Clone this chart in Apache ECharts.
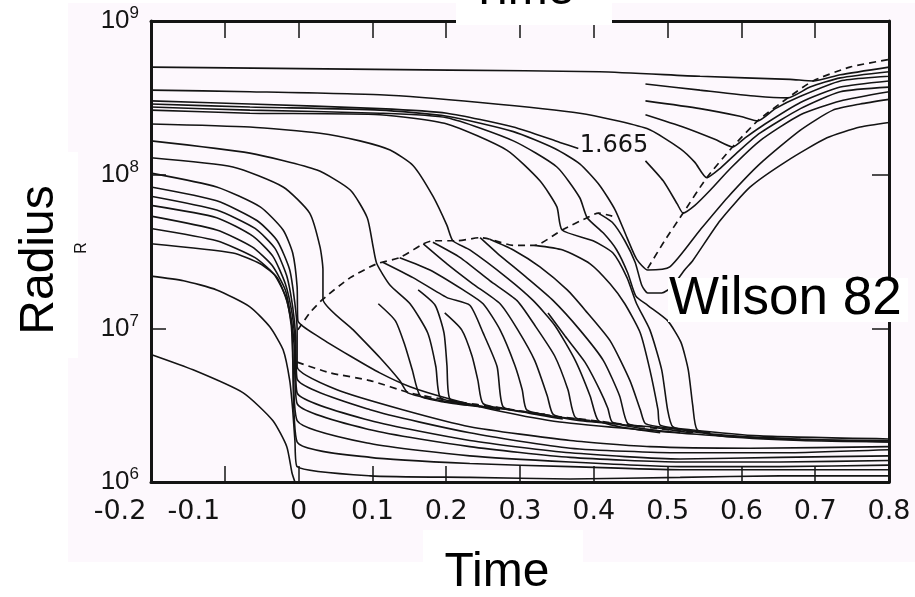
<!DOCTYPE html>
<html>
<head>
<meta charset="utf-8">
<title>Mass-shell trajectories (Wilson 82)</title>
<script src="https://cdn.jsdelivr.net/npm/echarts@6/dist/echarts.min.js"></script>
<style>
  html, body { margin: 0; padding: 0; background: #ffffff; }
  #chart { width: 915px; height: 597px; }
</style>
</head>
<body>
<div id="chart"></div>
<script>
// Axis ticks
const xTickLabels = ['-0.2', '-0.1', '0', '0.1', '0.2', '0.3', '0.4', '0.5', '0.6', '0.7', '0.8'];
const yTickExponents = [6, 7, 8, 9];

// Mass-shell trajectories, each point is [time, log10(radius)]
// Outermost shells, swept up by the outgoing shock near the end
const shell01 = [[-0.200,8.70],[0.002,8.69],[0.205,8.68],[0.408,8.67],[0.544,8.64],[0.666,8.62],[0.697,8.61],[0.734,8.65],[0.800,8.70]];
const shell02 = [[0.470,8.59],[0.544,8.55],[0.621,8.51],[0.663,8.50],[0.693,8.57],[0.734,8.63],[0.800,8.67]];
const shell03 = [[0.470,8.48],[0.544,8.43],[0.598,8.38],[0.622,8.35],[0.646,8.43],[0.680,8.51],[0.734,8.61],[0.800,8.64]];
const shell04 = [[0.470,8.39],[0.521,8.31],[0.564,8.23],[0.588,8.18],[0.605,8.24],[0.632,8.33],[0.680,8.47],[0.734,8.57],[0.800,8.61]];
const shell05 = [[-0.200,8.55],[-0.066,8.54],[0.110,8.52],[0.246,8.47],[0.381,8.40],[0.472,8.30],[0.517,8.17],[0.537,8.08],[0.553,7.98],[0.571,8.04],[0.598,8.16],[0.625,8.27],[0.680,8.43],[0.734,8.54],[0.800,8.57]];
// The 1.665 solar-mass shell (broken where its label sits)
const shell06 = [[-0.200,8.48],[-0.066,8.46],[0.110,8.43],[0.201,8.40],[0.291,8.31],[0.354,8.21],[0.379,8.17],[0.424,null],[0.470,8.09],[0.494,7.96],[0.513,7.81],[0.521,7.75],[0.537,7.80],[0.558,7.90],[0.585,8.04],[0.625,8.22],[0.680,8.39],[0.734,8.48],[0.800,8.54]];
const shell07 = [[-0.200,8.46],[-0.066,8.44],[0.110,8.42],[0.201,8.38],[0.291,8.28],[0.347,8.17],[0.381,8.07],[0.408,7.93],[0.429,7.77],[0.445,7.59],[0.458,7.45],[0.473,7.38],[0.503,7.40],[0.544,7.64],[0.581,7.85],[0.625,8.07],[0.680,8.29],[0.724,8.42],[0.761,8.46],[0.800,8.49]];
const shell08 = [[-0.200,8.44],[-0.066,8.42],[0.110,8.40],[0.201,8.37],[0.291,8.22],[0.350,8.05],[0.381,7.85],[0.391,7.72],[0.413,7.62],[0.431,7.51],[0.446,7.36],[0.457,7.21],[0.473,7.15],[0.500,7.05],[0.518,6.91],[0.528,6.73],[0.534,6.50],[0.540,6.34],[0.571,6.30],[0.680,6.27],[0.800,6.26]];
const shell09 = [[0.406,7.75],[0.425,7.69],[0.442,7.57],[0.456,7.43],[0.465,7.28],[0.473,7.23],[0.492,7.23],[0.506,7.27],[0.523,7.38],[0.534,7.44],[0.571,7.70],[0.612,7.92],[0.662,8.09],[0.716,8.24],[0.761,8.31],[0.800,8.34]];
const shell10 = [[-0.200,8.42],[-0.066,8.40],[0.110,8.39],[0.201,8.33],[0.282,8.16],[0.327,7.96],[0.350,7.79],[0.357,7.64],[0.399,7.57],[0.426,7.49],[0.445,7.33],[0.458,7.16],[0.476,6.99],[0.492,6.73],[0.500,6.47],[0.507,6.36],[0.544,6.32],[0.652,6.28],[0.800,6.27]];
const shell11 = [[-0.200,8.33],[-0.066,8.31],[0.029,8.27],[0.083,8.22],[0.124,8.16],[0.155,8.06],[0.182,7.86],[0.201,7.67],[0.209,7.57],[0.232,7.51],[0.282,7.33],[0.318,7.18],[0.347,7.02],[0.375,6.79],[0.395,6.56],[0.406,6.40],[0.435,6.36],[0.490,6.32]];

// Shells that start behind the first shock and settle onto the inner front
const shell12 = [[0.320,7.54],[0.358,7.51],[0.395,7.42],[0.422,7.29],[0.442,7.16],[0.463,6.97],[0.476,6.73],[0.487,6.47],[0.490,6.37],[0.531,6.34],[0.625,6.30],[0.800,6.28]];
const shell13 = [[0.259,7.58],[0.291,7.51],[0.327,7.40],[0.364,7.25],[0.388,7.12],[0.422,6.92],[0.449,6.66],[0.463,6.47],[0.470,6.38],[0.503,6.35],[0.558,6.32]];
const shell14 = [[0.246,7.59],[0.269,7.49],[0.309,7.33],[0.345,7.18],[0.381,6.99],[0.413,6.79],[0.435,6.56],[0.446,6.38],[0.476,6.36],[0.531,6.32]];
const shell14b = [[0.338,7.10],[0.361,6.95],[0.388,6.78],[0.408,6.60],[0.419,6.48],[0.425,6.39],[0.463,6.35],[0.517,6.32]];
const shell15 = [[0.182,7.56],[0.219,7.46],[0.259,7.31],[0.296,7.18],[0.320,7.02],[0.347,6.82],[0.365,6.60],[0.375,6.42],[0.408,6.39],[0.463,6.36]];
const shell16 = [[0.169,7.55],[0.201,7.42],[0.236,7.29],[0.273,7.16],[0.297,6.99],[0.320,6.79],[0.337,6.56],[0.345,6.44],[0.379,6.40],[0.429,6.38]];
const shell17 = [[0.137,7.46],[0.178,7.38],[0.223,7.25],[0.250,7.16],[0.273,6.99],[0.293,6.76],[0.303,6.60],[0.309,6.47],[0.343,6.43],[0.395,6.40]];
const shell18 = [[0.114,7.43],[0.155,7.33],[0.201,7.20],[0.232,7.15],[0.250,6.97],[0.269,6.75],[0.277,6.49],[0.311,6.45],[0.358,6.41]];
const shell18b = [[0.198,7.10],[0.221,6.99],[0.235,6.82],[0.243,6.66],[0.250,6.51],[0.287,6.47],[0.334,6.44]];
const shell19 = [[0.162,7.25],[0.185,7.15],[0.197,6.97],[0.201,6.76],[0.205,6.54],[0.239,6.50],[0.287,6.47]];
const shell20 = [[-0.200,8.22],[-0.066,8.14],[0.025,8.03],[0.070,7.90],[0.093,7.72],[0.101,7.53],[0.106,7.42],[0.124,7.28],[0.151,7.16],[0.175,6.97],[0.186,6.75],[0.192,6.55],[0.225,6.51],[0.273,6.47]];
const shell21 = [[0.108,7.16],[0.131,7.05],[0.144,6.89],[0.154,6.73],[0.165,6.56],[0.198,6.52],[0.246,6.49]];
const shell22 = [[-0.200,8.11],[-0.089,8.05],[-0.021,7.92],[0.015,7.75],[0.029,7.53],[0.033,7.38],[0.033,7.19],[0.074,6.99],[0.110,6.81],[0.137,6.66],[0.148,6.58],[0.182,6.54],[0.229,6.50]];

// Inner shells: collapse onto the core at t = 0, then settle
const shell23 = [[-0.200,8.01],[-0.111,7.92],[-0.052,7.79],[-0.021,7.64],[-0.008,7.49],[-0.002,7.27],[-0.001,7.05],[0.029,6.94],[0.070,6.82],[0.110,6.71],[0.151,6.62],[0.205,6.54],[0.273,6.46],[0.354,6.39],[0.463,6.34],[0.571,6.30],[0.680,6.28],[0.800,6.26]];
const shell24 = [[-0.200,7.92],[-0.111,7.83],[-0.056,7.70],[-0.029,7.57],[-0.012,7.38],[-0.005,7.16],[-0.002,6.99],[-0.002,6.75],[0.052,6.60],[0.141,6.47],[0.232,6.36],[0.368,6.27],[0.476,6.23],[0.612,6.22],[0.800,6.23]];
const shell25 = [[-0.200,7.86],[-0.111,7.77],[-0.059,7.65],[-0.032,7.52],[-0.016,7.34],[-0.008,7.14],[-0.004,6.95],[-0.002,6.67],[0.097,6.47],[0.232,6.32],[0.368,6.22],[0.517,6.19],[0.652,6.19],[0.800,6.21]];
const shell26 = [[-0.200,7.80],[-0.111,7.72],[-0.062,7.60],[-0.035,7.47],[-0.018,7.29],[-0.009,7.10],[-0.005,6.92],[-0.002,6.58],[0.097,6.40],[0.232,6.27],[0.368,6.19],[0.517,6.15],[0.652,6.16],[0.800,6.17]];
const shell27 = [[-0.200,7.73],[-0.111,7.64],[-0.063,7.53],[-0.036,7.41],[-0.018,7.25],[-0.010,7.06],[-0.006,6.89],[-0.002,6.51],[0.097,6.34],[0.232,6.23],[0.368,6.16],[0.517,6.13],[0.652,6.13],[0.800,6.14]];
const shell28 = [[-0.200,7.65],[-0.111,7.57],[-0.059,7.46],[-0.033,7.35],[-0.017,7.20],[-0.010,7.02],[-0.008,6.86],[-0.002,6.40],[0.097,6.25],[0.232,6.17],[0.368,6.13],[0.517,6.10],[0.652,6.10],[0.800,6.11]];
const shell29 = [[-0.200,7.55],[-0.089,7.49],[-0.052,7.42],[-0.029,7.33],[-0.016,7.18],[-0.009,7.01],[-0.008,6.81],[-0.002,6.26],[0.097,6.16],[0.232,6.12],[0.368,6.10],[0.517,6.08],[0.652,6.08],[0.800,6.08]];
const shell30 = [[-0.200,7.34],[-0.156,7.31],[-0.111,7.25],[-0.066,7.14],[-0.039,7.01],[-0.021,6.86],[-0.012,6.66],[-0.008,6.47],[-0.005,6.27],[-0.002,6.10],[0.097,6.04],[0.232,6.03],[0.368,6.02],[0.517,6.03],[0.652,6.04],[0.800,6.04]];
const shell31 = [[-0.200,6.83],[-0.143,6.73],[-0.075,6.58],[-0.035,6.40],[-0.016,6.23],[-0.009,6.06],[-0.005,6.00]];

// Shock fronts (dashed)
const firstShock = [[-0.001,6.99],[0.015,7.10],[0.033,7.19],[0.070,7.33],[0.106,7.42],[0.137,7.46],[0.169,7.55],[0.182,7.57],[0.215,7.57],[0.246,7.59],[0.259,7.58],[0.291,7.54],[0.320,7.54],[0.357,7.64],[0.391,7.72],[0.406,7.75],[0.425,7.73]];
const innerFront = [[-0.002,6.78],[0.043,6.71],[0.097,6.66],[0.151,6.58],[0.205,6.53],[0.277,6.48],[0.345,6.43],[0.399,6.40],[0.466,6.36],[0.540,6.32]];
const outgoingShock = [[0.473,7.39],[0.496,7.57],[0.521,7.75],[0.553,7.98],[0.588,8.18],[0.622,8.35],[0.663,8.50],[0.697,8.61],[0.747,8.70],[0.800,8.75]];

const solidShells = [shell01, shell02, shell03, shell04, shell05, shell06, shell07, shell08, shell09, shell10,
  shell11, shell12, shell13, shell14, shell14b, shell15, shell16, shell17, shell18, shell18b, shell19, shell20,
  shell21, shell22, shell23, shell24, shell25, shell26, shell27, shell28, shell29, shell30, shell31];
const dashedFronts = [firstShock, innerFront, outgoingShock];

const ink = '#141414';
const scanFont = 'DejaVu Sans';
const titleFont = 'Liberation Sans';

function makeSeries(points, dashed) {
  return {
    type: 'line',
    xAxisIndex: 0,
    yAxisIndex: 0,
    data: points.map(p => [p[0], p[1] == null ? '-' : Math.pow(10, p[1])]),
    symbol: 'none',
    showSymbol: false,
    smooth: 0.2,
    connectNulls: false,
    silent: true,
    z: 3,
    lineStyle: { color: ink, width: dashed ? 1.7 : 1.6, type: dashed ? [7, 5] : 'solid' }
  };
}

const series = solidShells.map(s => makeSeries(s, false)).concat(dashedFronts.map(s => makeSeries(s, true)));

const frameLine = { onZero: false, lineStyle: { color: ink, width: 3 } };

const chart = echarts.init(document.getElementById('chart'), null, { renderer: 'canvas' });

chart.setOption({
  animation: false,
  backgroundColor: '#ffffff',
  grid: { left: 151, top: 21, width: 738, height: 461, containLabel: false },
  xAxis: [
    {
      type: 'value', position: 'bottom', min: -0.2, max: 0.8, interval: 0.1,
      axisLine: frameLine,
      axisTick: { inside: true, length: 16, lineStyle: { color: ink, width: 1.5 } },
      splitLine: { show: false },
      axisLabel: {
        margin: 16, color: ink, fontFamily: scanFont, fontSize: 27,
        formatter: v => {
          const label = xTickLabels[Math.round((v + 0.2) * 10)];
          return label.charAt(0) === '-' ? '{neg|' + label + '}' : label;
        },
        rich: { neg: { color: ink, fontFamily: scanFont, fontSize: 27, padding: [0, 62, 0, 0] } }
      }
    },
    {
      type: 'value', position: 'top', min: -0.2, max: 0.8, interval: 0.1,
      axisLine: frameLine,
      axisTick: { inside: true, length: 17, lineStyle: { color: ink, width: 1.5 } },
      axisLabel: { show: false },
      splitLine: { show: false }
    }
  ],
  yAxis: [
    {
      type: 'log', logBase: 10, position: 'left', min: 1e6, max: 1e9,
      axisLine: frameLine,
      axisTick: { inside: true, length: 15, lineStyle: { color: ink, width: 1.5 } },
      splitLine: { show: false },
      minorTick: { show: false },
      axisLabel: {
        margin: 12,
        formatter: v => {
          const e = Math.round(Math.log10(v));
          return yTickExponents.indexOf(e) >= 0 ? '{b|10}{s|' + e + '}' : '';
        },
        rich: {
          b: { color: ink, fontFamily: titleFont, fontSize: 26, lineHeight: 32 },
          s: { color: ink, fontFamily: titleFont, fontSize: 17, lineHeight: 17, verticalAlign: 'top' }
        }
      }
    },
    {
      type: 'log', logBase: 10, position: 'right', min: 1e6, max: 1e9,
      axisLine: frameLine,
      axisTick: { inside: true, length: 17, lineStyle: { color: ink, width: 1.5 } },
      axisLabel: { show: false },
      splitLine: { show: false }
    }
  ],
  series: series,
  graphic: {
    elements: [
      { type: 'rect', z: -10, silent: true, shape: { x: 68, y: 3, width: 847, height: 559 }, style: { fill: '#fdf8fd' } },
      { type: 'rect', z: 50, silent: true, shape: { x: 456, y: 0, width: 156, height: 25 }, style: { fill: '#ffffff' } },
      { type: 'rect', z: 50, silent: true, shape: { x: 423, y: 530, width: 160, height: 67 }, style: { fill: '#ffffff' } },
      { type: 'rect', z: 50, silent: true, shape: { x: 0, y: 152, width: 78, height: 206 }, style: { fill: '#ffffff' } },
      { type: 'rect', z: 50, silent: true, shape: { x: 668, y: 278, width: 240, height: 44 }, style: { fill: '#ffffff' } },
      { type: 'text', z: 60, silent: true, x: 522, y: -9,
        style: { text: 'Time', font: '48px "' + titleFont + '"', fill: '#000', align: 'center', verticalAlign: 'middle', textAlign: 'center', textVerticalAlign: 'middle' } },
      { type: 'text', z: 60, silent: true, x: 497, y: 573,
        style: { text: 'Time', font: '48px "' + titleFont + '"', fill: '#000', align: 'center', verticalAlign: 'middle', textAlign: 'center', textVerticalAlign: 'middle' } },
      { type: 'text', z: 60, silent: true, x: 40, y: 260, rotation: Math.PI / 2,
        style: { text: 'Radius', font: '48px "' + titleFont + '"', fill: '#000', align: 'center', verticalAlign: 'middle', textAlign: 'center', textVerticalAlign: 'middle' } },
      { type: 'text', z: 60, silent: true, x: 669, y: 299,
        style: { text: 'Wilson 82', font: '53px "' + titleFont + '"', fill: '#000', align: 'left', verticalAlign: 'middle', textAlign: 'left', textVerticalAlign: 'middle' } },
      { type: 'text', z: 60, silent: true, x: 614, y: 146,
        style: { text: '1.665', font: '24px "' + scanFont + '"', fill: ink, align: 'center', verticalAlign: 'middle', textAlign: 'center', textVerticalAlign: 'middle' } },
      { type: 'text', z: 60, silent: true, x: 82, y: 248, rotation: Math.PI / 2,
        style: { text: 'R', font: '16px "' + titleFont + '"', fill: ink, align: 'center', verticalAlign: 'middle', textAlign: 'center', textVerticalAlign: 'middle' } }
    ]
  }
});
</script>
</body>
</html>
